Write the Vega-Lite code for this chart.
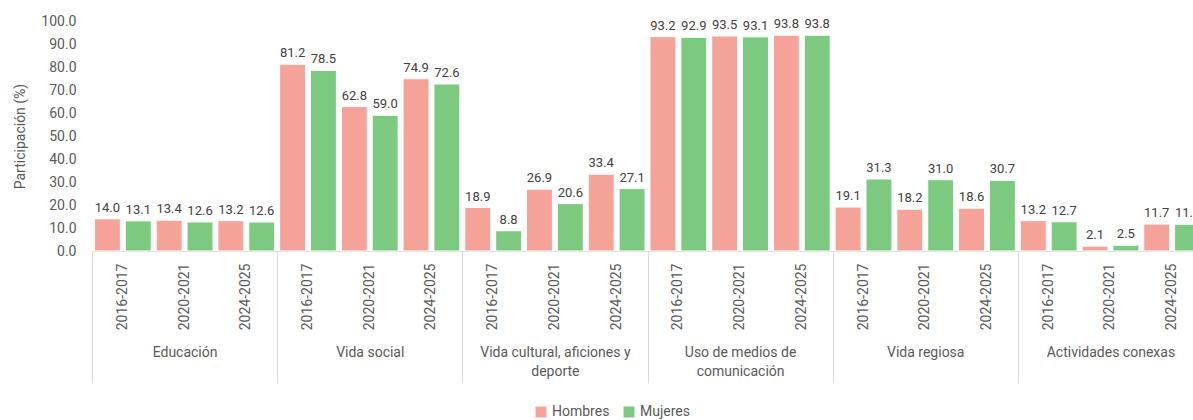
{
  "$schema": "https://vega.github.io/schema/vega-lite/v6.json",
  "autosize": {"type": "none"},
  "width": 1101,
  "height": 230,
  "padding": {"left": 92, "top": 21, "right": 0, "bottom": 169},
  "background": "white",
  "config": {
    "view": {"stroke": null},
    "font": "Roboto",
    "axis": {"labelColor": "#595959", "titleColor": "#595959", "labelFont": "Roboto", "titleFont": "Roboto"},
    "legend": {"labelColor": "#595959", "labelFont": "Roboto"}
  },
  "data": {
    "values": [
      {"cat": "Educación", "period": "2016-2017", "sexo": "Hombres", "valor": 14.0},
      {"cat": "Educación", "period": "2016-2017", "sexo": "Mujeres", "valor": 13.1},
      {"cat": "Educación", "period": "2020-2021", "sexo": "Hombres", "valor": 13.4},
      {"cat": "Educación", "period": "2020-2021", "sexo": "Mujeres", "valor": 12.6},
      {"cat": "Educación", "period": "2024-2025", "sexo": "Hombres", "valor": 13.2},
      {"cat": "Educación", "period": "2024-2025", "sexo": "Mujeres", "valor": 12.6},
      {"cat": "Vida social", "period": "2016-2017", "sexo": "Hombres", "valor": 81.2},
      {"cat": "Vida social", "period": "2016-2017", "sexo": "Mujeres", "valor": 78.5},
      {"cat": "Vida social", "period": "2020-2021", "sexo": "Hombres", "valor": 62.8},
      {"cat": "Vida social", "period": "2020-2021", "sexo": "Mujeres", "valor": 59.0},
      {"cat": "Vida social", "period": "2024-2025", "sexo": "Hombres", "valor": 74.9},
      {"cat": "Vida social", "period": "2024-2025", "sexo": "Mujeres", "valor": 72.6},
      {"cat": "Vida cultural, aficiones y deporte", "period": "2016-2017", "sexo": "Hombres", "valor": 18.9},
      {"cat": "Vida cultural, aficiones y deporte", "period": "2016-2017", "sexo": "Mujeres", "valor": 8.8},
      {"cat": "Vida cultural, aficiones y deporte", "period": "2020-2021", "sexo": "Hombres", "valor": 26.9},
      {"cat": "Vida cultural, aficiones y deporte", "period": "2020-2021", "sexo": "Mujeres", "valor": 20.6},
      {"cat": "Vida cultural, aficiones y deporte", "period": "2024-2025", "sexo": "Hombres", "valor": 33.4},
      {"cat": "Vida cultural, aficiones y deporte", "period": "2024-2025", "sexo": "Mujeres", "valor": 27.1},
      {"cat": "Uso de medios de comunicación", "period": "2016-2017", "sexo": "Hombres", "valor": 93.2},
      {"cat": "Uso de medios de comunicación", "period": "2016-2017", "sexo": "Mujeres", "valor": 92.9},
      {"cat": "Uso de medios de comunicación", "period": "2020-2021", "sexo": "Hombres", "valor": 93.5},
      {"cat": "Uso de medios de comunicación", "period": "2020-2021", "sexo": "Mujeres", "valor": 93.1},
      {"cat": "Uso de medios de comunicación", "period": "2024-2025", "sexo": "Hombres", "valor": 93.8},
      {"cat": "Uso de medios de comunicación", "period": "2024-2025", "sexo": "Mujeres", "valor": 93.8},
      {"cat": "Vida regiosa", "period": "2016-2017", "sexo": "Hombres", "valor": 19.1},
      {"cat": "Vida regiosa", "period": "2016-2017", "sexo": "Mujeres", "valor": 31.3},
      {"cat": "Vida regiosa", "period": "2020-2021", "sexo": "Hombres", "valor": 18.2},
      {"cat": "Vida regiosa", "period": "2020-2021", "sexo": "Mujeres", "valor": 31.0},
      {"cat": "Vida regiosa", "period": "2024-2025", "sexo": "Hombres", "valor": 18.6},
      {"cat": "Vida regiosa", "period": "2024-2025", "sexo": "Mujeres", "valor": 30.7},
      {"cat": "Actividades conexas", "period": "2016-2017", "sexo": "Hombres", "valor": 13.2},
      {"cat": "Actividades conexas", "period": "2016-2017", "sexo": "Mujeres", "valor": 12.7},
      {"cat": "Actividades conexas", "period": "2020-2021", "sexo": "Hombres", "valor": 2.1},
      {"cat": "Actividades conexas", "period": "2020-2021", "sexo": "Mujeres", "valor": 2.5},
      {"cat": "Actividades conexas", "period": "2024-2025", "sexo": "Hombres", "valor": 11.7},
      {"cat": "Actividades conexas", "period": "2024-2025", "sexo": "Mujeres", "valor": 11.6}
    ]
  },
  "transform": [{"calculate": "datum.cat + '|' + datum.period", "as": "key"}],
  "layer": [
    {
      "encoding": {
        "x": {
          "field": "key", "type": "nominal", "sort": null,
          "scale": {"paddingInner": 0, "paddingOuter": 0, "range": [0, 1111]},
          "axis": {
            "title": null, "orient": "bottom", "labelAngle": -90, "labelAlign": "right", "labelBaseline": "middle",
            "labelExpr": "split(datum.value, '|')[1]", "ticks": false, "tickSize": 0, "labelPadding": 12,
            "labelFontSize": 14, "domain": true, "domainColor": "#d9d9d9", "domainWidth": 1, "grid": false
          }
        },
        "xOffset": {"field": "sexo", "type": "nominal", "sort": null, "scale": {"paddingInner": 0.16, "paddingOuter": 0.08}},
        "y": {
          "field": "valor", "type": "quantitative",
          "scale": {"domain": [0, 100], "nice": false},
          "axis": {
            "title": "Participación (%)", "values": [0, 10, 20, 30, 40, 50, 60, 70, 80, 90, 100], "format": ".1f",
            "domain": false, "ticks": false, "grid": false, "labelPadding": 16, "labelFontSize": 14,
            "titleFontSize": 14, "titleFontWeight": "normal", "titleX": -72, "titleY": 115, "titleAngle": -90,
            "titleAlign": "center", "titleBaseline": "middle"
          }
        }
      },
      "layer": [
        {
          "mark": {"type": "bar", "stroke": "#ffffff", "strokeWidth": 1},
          "encoding": {
            "color": {
              "field": "sexo", "type": "nominal",
              "scale": {"domain": ["Hombres", "Mujeres"], "range": ["#F5A399", "#7BCA7F"]},
              "legend": {
                "title": null, "orient": "none", "legendX": 442, "legendY": 384, "direction": "horizontal",
                "symbolType": "square", "symbolSize": 120, "symbolStrokeWidth": 0, "labelFontSize": 14, "columnPadding": 12
              }
            }
          }
        },
        {
          "mark": {"type": "text", "baseline": "bottom", "dy": -4, "fontSize": 13, "color": "#404040"},
          "encoding": {"text": {"field": "valor", "type": "quantitative", "format": ".1f"}}
        }
      ]
    },
    {
      "mark": {"type": "point", "opacity": 0},
      "encoding": {
        "x": {
          "field": "cat", "type": "nominal", "sort": null,
          "scale": {"paddingInner": 0, "paddingOuter": 0, "range": [0, 1111]},
          "axis": {
            "title": null, "orient": "bottom", "domain": false, "ticks": true, "tickBand": "extent",
            "tickSize": 132, "tickColor": "#d9d9d9", "tickWidth": 1, "labelPadding": -38, "labelBaseline": "top",
            "labelFontSize": 14, "labelLineHeight": 19, "labelAngle": 0, "grid": false,
            "labelExpr": "datum.value == 'Vida cultural, aficiones y deporte' ? ['Vida cultural, aficiones y', 'deporte'] : datum.value == 'Uso de medios de comunicación' ? ['Uso de medios de', 'comunicación'] : datum.value"
          }
        }
      }
    }
  ],
  "resolve": {"scale": {"x": "independent"}}
}
